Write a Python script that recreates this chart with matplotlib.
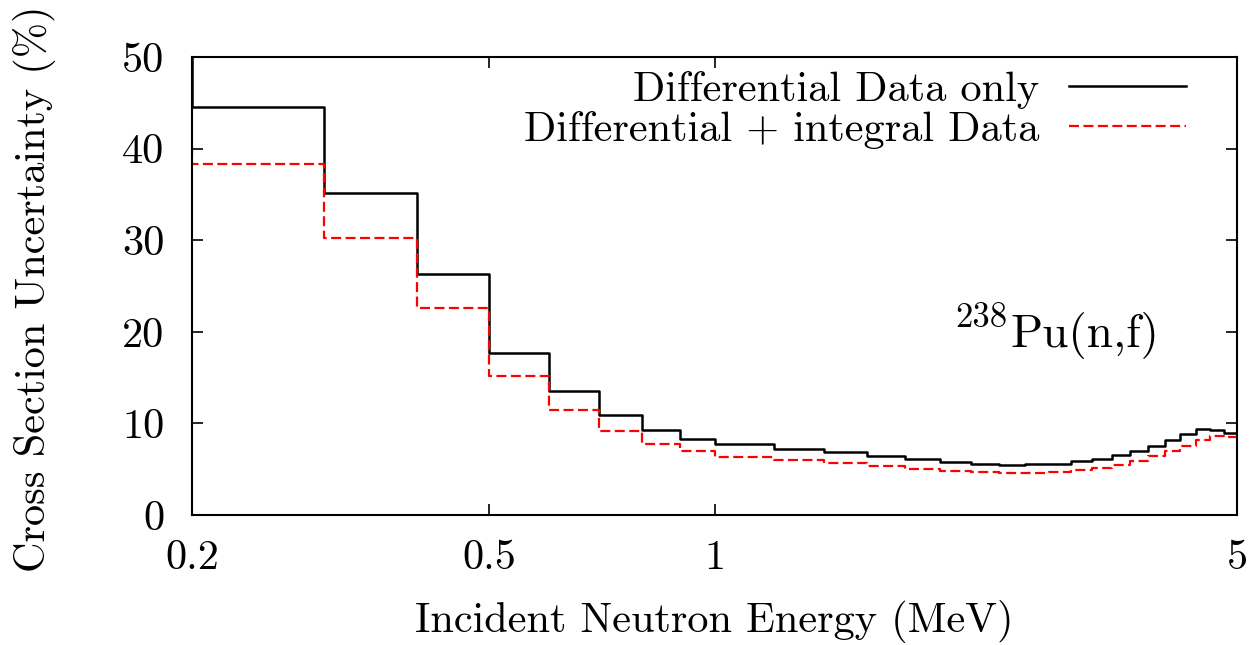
import matplotlib
matplotlib.use("Agg")
import matplotlib.pyplot as plt
import numpy as np

plt.rcParams['font.family'] = 'serif'
plt.rcParams['font.serif'] = ['cmr10', 'DejaVu Serif']
plt.rcParams['mathtext.fontset'] = 'cm'
plt.rcParams['axes.unicode_minus'] = False
plt.rcParams['axes.formatter.use_mathtext'] = True

# bin edges (MeV): 0.1 wide up to 1, then 0.2 wide up to 5
edges = [0.2, 0.3, 0.4, 0.5, 0.6, 0.7, 0.8, 0.9, 1.0,
         1.2, 1.4, 1.6, 1.8, 2.0, 2.2, 2.4, 2.6, 2.8, 3.0,
         3.2, 3.4, 3.6, 3.8, 4.0, 4.2, 4.4, 4.6, 4.8, 5.0]

diff_only = [44.5, 35.15, 26.3, 17.7, 13.5, 10.95, 9.3, 8.26,
             7.71, 7.2, 6.88, 6.44, 6.08, 5.79, 5.57, 5.49, 5.53, 5.6,
             5.9, 6.15, 6.58, 7.02, 7.53, 8.19, 8.88, 9.39, 9.28, 8.92]
diff_integral = [38.3, 30.2, 22.6, 15.2, 11.5, 9.2, 7.75, 6.95,
                 6.37, 6.0, 5.64, 5.31, 5.02, 4.84, 4.66, 4.58, 4.58, 4.73,
                 4.91, 5.13, 5.46, 5.93, 6.44, 6.99, 7.57, 8.15, 8.66, 8.55]
# value just before the first edge (vertical at 0.2)
diff_only_start = 60.0
diff_integral_start = 40.3

FS = 30.5

fig = plt.figure(figsize=(12.55, 6.45), dpi=100)
ax = fig.add_axes([0.153, 0.2016, 0.8327, 0.71])

def stepline(start, vals):
    x = [edges[0]] + edges
    y = [start] + vals + [vals[-1]]
    return x, y

x, y = stepline(diff_only_start, diff_only)
ax.step(x, y, where='post', color='black', lw=1.8, label='Differential Data only')
x, y = stepline(diff_integral_start, diff_integral)
ax.step(x, y, where='post', color='red', lw=1.6, dashes=(4.5, 2),
        label='Differential + integral Data')

ax.set_xscale('log')
ax.set_xlim(0.2, 5)
ax.set_ylim(0, 50)
ax.set_xticks([0.2, 0.5, 1, 5])
ax.set_xticklabels(['0.2', '0.5', '1', '5'])
ax.xaxis.set_minor_locator(matplotlib.ticker.NullLocator())
ax.set_yticks([0, 10, 20, 30, 40, 50])
ax.set_yticklabels(['0', '10', '20', '30', '40', '50'])
ax.tick_params(direction='in', length=8, width=1.2, labelsize=FS,
               top=True, right=True)
ax.tick_params(axis='x', pad=18)
ax.tick_params(axis='y', pad=20)
for s in ax.spines.values():
    s.set_linewidth(1.5)

ax.set_xlabel('Incident Neutron Energy (MeV)', fontsize=FS, labelpad=16)
ax.set_ylabel('Cross Section Uncertainty (%)', fontsize=FS)
ax.yaxis.set_label_coords(-0.130, 0.494)

# isotope label: superscript mass number drawn as its own text
ax.text(0.926, 0.367, 'Pu(n,f)', transform=ax.transAxes, fontsize=34,
        ha='right', va='baseline')
ax.text(0.730, 0.4105, '238', transform=ax.transAxes, fontsize=25,
        ha='left', va='baseline')

leg = ax.legend(loc='upper right', frameon=False, markerfirst=False, fontsize=FS,
                handlelength=2.76, handletextpad=0.7, labelspacing=0.05,
                borderaxespad=0.2, bbox_to_anchor=(0.975, 1.025))

fig.savefig('out.png', dpi=100)
